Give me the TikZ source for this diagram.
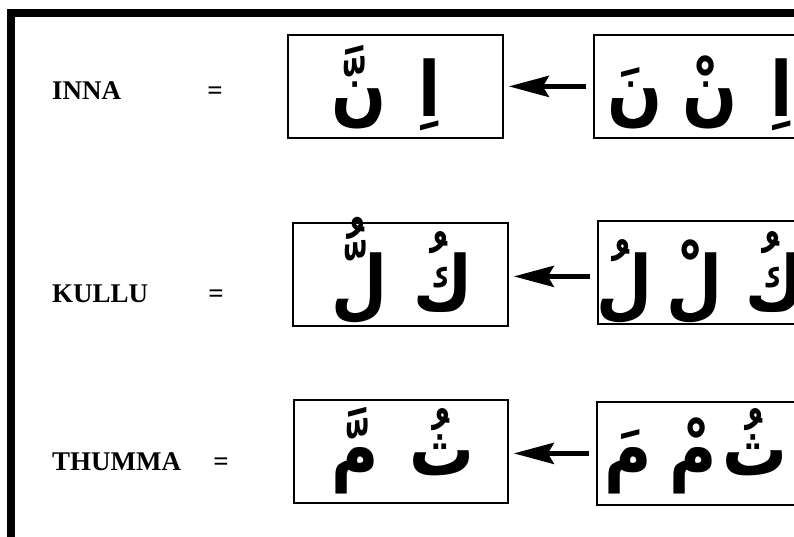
\documentclass[tikz,border=0pt]{standalone}
\usepackage{fontspec}
\usepackage{graphicx}
\setmainfont{Liberation Serif}
\newfontfamily\arabicfont[Script=Arabic]{DejaVu Sans}
\TeXXeTstate=1
\usetikzlibrary{arrows.meta}
% a single letter, right to left, slightly narrowed
\newcommand\arabictext[1]{\scalebox{0.85}[1]{\beginR #1\endR}}

\begin{document}
\begin{tikzpicture}[x=1pt,y=-1pt,
  frame/.style={line width=8pt},
  letterbox/.style={draw, line width=1.8pt, minimum height=103pt, anchor=north west, inner sep=0},
  lbl/.style={font=\fontsize{27}{30}\selectfont\bfseries, anchor=base west, inner sep=0},
  eqsign/.style={font=\fontsize{27}{30}\selectfont\bfseries, anchor=base, inner sep=0},
  glyph/.style={font=\fontsize{76}{84}\selectfont\arabicfont\bfseries, anchor=base, inner sep=0},
  pointer/.style={line width=5pt, -{Stealth[length=40pt,width=21pt,inset=6pt]}, shorten <=7pt, shorten >=5pt}
]
\useasboundingbox (0,0) rectangle (794,537);
\clip (0,0) rectangle (794,537);

% heavy frame along the top and left edges
\draw[frame] (11,560) -- (11,13) -- (820,13);

% row 1: INNA
\node[lbl] (lblA) at (52,100) {INNA};
\node[eqsign] (eqA) at (215,100) {=};
\node[letterbox, minimum width=215pt] (boxA1) at (287,34) {};
\node[letterbox, minimum width=240pt] (boxA2) at (593,34) {};
\draw[pointer] (boxA2.west) -- (boxA2.west -| boxA1.east);
\node[glyph] (gA1) at (359,117) {\arabictext{نَّ}};
\node[glyph] (gA2) at (430,117) {\arabictext{اِ}};
\node[glyph] (gA3) at (635,117) {\arabictext{نَ}};
\node[glyph] (gA4) at (710,117) {\arabictext{نْ}};
\node[glyph] (gA5) at (782,117) {\arabictext{اِ}};

% row 2: KULLU
\node[lbl] (lblB) at (52,302) {KULLU};
\node[eqsign] (eqB) at (216,302) {=};
\node[letterbox, minimum width=215pt] (boxB1) at (292,222) {};
\node[letterbox, minimum width=240pt] (boxB2) at (597,220) {};
\draw[pointer] ([yshift=-4pt]boxB2.west) -- ([yshift=-4pt]boxB2.west -| boxB1.east);
\node[glyph] (gB1) at (360,310) {\arabictext{لُّ}};
\node[glyph] (gB2) at (443,310) {\arabictext{كُ}};
\node[glyph] (gB3) at (625,310) {\arabictext{لُ}};
\node[glyph] (gB4) at (695,310) {\arabictext{لْ}};
\node[glyph] (gB5) at (775,310) {\arabictext{كُ}};

% row 3: THUMMA
\node[lbl] (lblC) at (52,470) {THUMMA};
\node[eqsign] (eqC) at (221,470) {=};
\node[letterbox, minimum width=214pt] (boxC1) at (293,399) {};
\node[letterbox, minimum width=240pt] (boxC2) at (596,401) {};
\draw[pointer] (boxC2.west) -- (boxC2.west -| boxC1.east);
\node[glyph] (gC1) at (355,475) {\arabictext{مَّ}};
\node[glyph] (gC2) at (442,475) {\arabictext{ثُ}};
\node[glyph] (gC3) at (628,475) {\arabictext{مَ}};
\node[glyph] (gC4) at (693,475) {\arabictext{مْ}};
\node[glyph] (gC5) at (755,475) {\arabictext{ثُ}};
\end{tikzpicture}
\end{document}
